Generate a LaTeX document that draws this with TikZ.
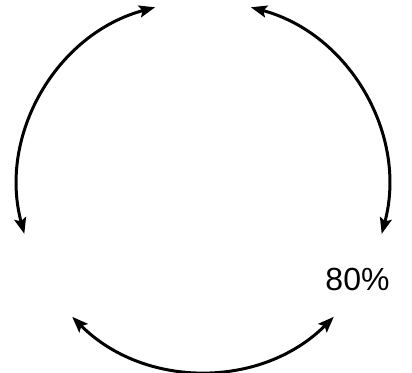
\documentclass[tikz,border=0pt]{standalone}
\usepackage{fontspec}
\setmainfont{Liberation Sans}
\usetikzlibrary{arrows.meta}
\begin{document}
\begin{tikzpicture}[x=1pt,y=1pt,
  cyclearc/.style={line width=3pt, {Stealth[length=16pt,width=12pt,inset=3pt]}-{Stealth[length=16pt,width=12pt,inset=3pt]}},
  label/.style={font=\fontsize{32}{38}\selectfont, inner sep=0pt}]
\useasboundingbox (0,0) rectangle (412,372);
\coordinate (c) at (203,186);
\node[label] (pct) at (357.5,93) {80\%};
\draw[cyclearc] (c) ++(105:185) arc[start angle=105, end angle=195, radius=185];
\draw[cyclearc] (c) ++(225:185) arc[start angle=225, end angle=315, radius=185];
\draw[cyclearc] (c) ++(345:185) arc[start angle=345, end angle=435, radius=185];
\end{tikzpicture}
\end{document}
